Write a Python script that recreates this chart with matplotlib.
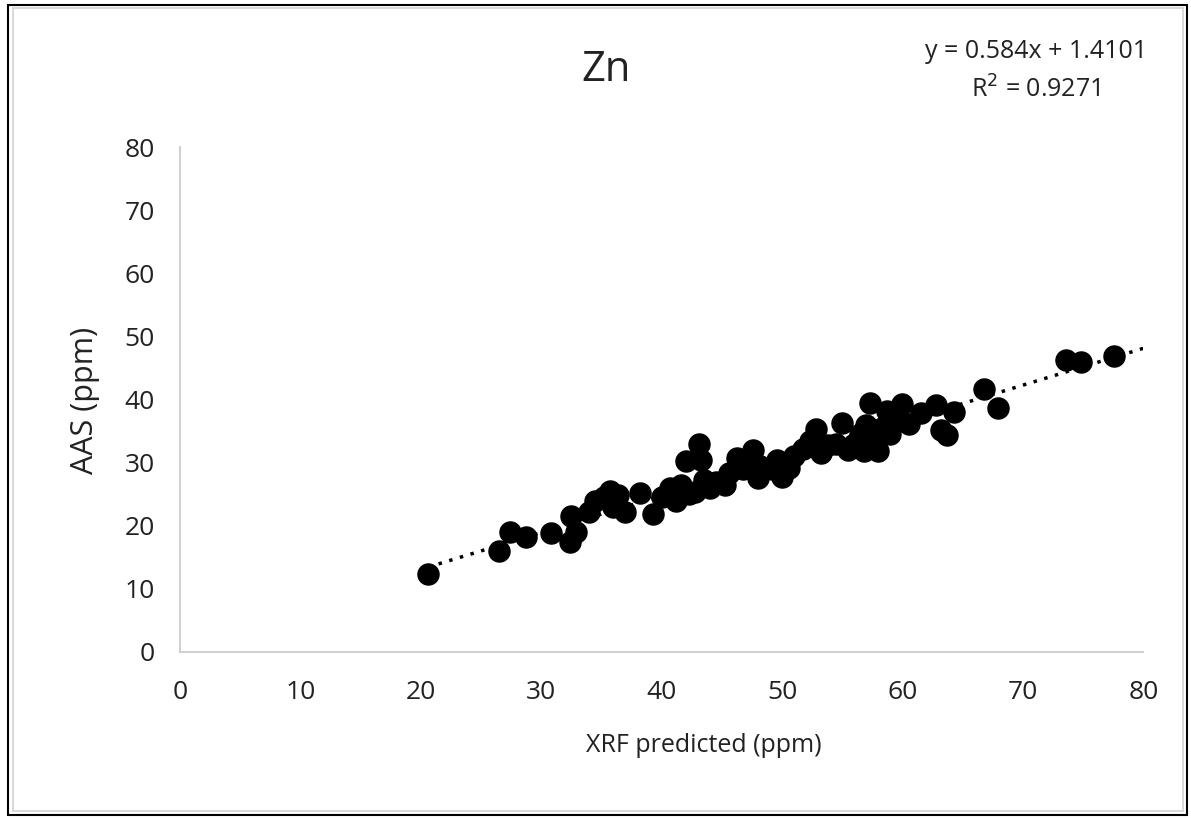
import matplotlib.pyplot as plt
from matplotlib.patches import Rectangle

# XRF predicted vs AAS values (ppm)
xrf = [20.6, 26.5, 27.4, 28.7, 30.8, 32.4, 32.5, 32.9, 34.0, 34.5, 35.2, 35.7,
       36.0, 36.4, 37.0, 38.2, 39.3, 40.0, 40.7, 41.2, 41.6, 42.0, 42.3, 42.8,
       43.1, 43.3, 43.5, 44.0, 44.5, 45.3, 45.6, 46.3, 46.8, 47.3, 47.6, 48.0,
       48.2, 49.2, 49.6, 50.0, 50.6, 51.0, 51.7, 52.3, 52.8, 53.2, 53.8, 54.5,
       55.0, 55.5, 56.0, 56.5, 56.8, 57.0, 57.3, 57.6, 58.0, 58.3, 58.7, 59.0,
       59.5, 60.0, 60.5, 61.5, 62.8, 63.2, 63.7, 64.3, 66.8, 67.9, 73.6, 74.8,
       77.6]
aas = [12.3, 16.0, 19.0, 18.2, 18.9, 17.5, 21.5, 19.0, 22.2, 24.0, 24.5, 25.5,
       23.0, 24.9, 22.2, 25.2, 21.8, 24.5, 26.0, 24.0, 26.5, 30.3, 25.0, 25.4,
       33.0, 30.5, 27.2, 26.0, 27.0, 26.5, 28.3, 30.8, 29.0, 30.4, 32.0, 27.5,
       29.5, 29.0, 30.4, 27.7, 29.1, 31.0, 32.2, 33.5, 35.3, 31.6, 32.8, 33.0,
       36.3, 32.0, 33.0, 34.5, 31.8, 36.0, 39.5, 33.5, 31.8, 35.5, 38.2, 34.6,
       36.5, 39.3, 36.2, 37.8, 39.2, 35.2, 34.4, 38.1, 41.6, 38.6, 46.2, 45.9,
       46.9]

slope = 0.584
intercept = 1.4101
r2 = 0.9271
ticks = [0, 10, 20, 30, 40, 50, 60, 70, 80]

fig = plt.figure(figsize=(11.91, 8.18), dpi=100)
plt.rcParams['font.family'] = ['Open Sans', 'DejaVu Sans']
txt = '#222222'

# outer frame
fig.patches.append(Rectangle((0.007, 0.004), 0.99, 0.99, transform=fig.transFigure,
                             fill=False, edgecolor='black', linewidth=1.5))
fig.patches.append(Rectangle((0.011, 0.008), 0.982, 0.982, transform=fig.transFigure,
                             fill=False, edgecolor='#d9d9d9', linewidth=1.5))

ax = fig.add_axes([0.151, 0.203, 0.809, 0.617])
ax.scatter(xrf, aas, s=230, c='black', zorder=3)

fx = [min(xrf), 80]
fy = [slope * v + intercept for v in fx]
ax.plot(fx, fy, color='black', linestyle=(0, (1, 2.2)), linewidth=2.5, zorder=2)

ax.set_xlim(0, 80)
ax.set_ylim(0, 80)
ax.set_xticks(ticks)
ax.set_yticks(ticks)
ax.tick_params(length=0, labelsize=19, colors=txt)
ax.tick_params(axis='x', pad=20)
ax.tick_params(axis='y', pad=18)
for s in ['top', 'right']:
    ax.spines[s].set_visible(False)
for s in ['left', 'bottom']:
    ax.spines[s].set_color('#d0d0d0')
    ax.spines[s].set_linewidth(1.5)

fig.text(0.591, 1 - 745 / 818, 'XRF predicted (ppm)', fontsize=18,
         ha='center', va='center', color=txt)
fig.text(85 / 1191, 1 - 400 / 818, 'AAS (ppm)', fontsize=22, rotation=90,
         ha='center', va='center', color=txt)

fig.text(606 / 1191, 1 - 70 / 818, 'Zn', fontsize=30, ha='center', va='center', color=txt)
fig.text(1036 / 1191, 1 - 52 / 818, f'y = {slope}x + {intercept}', fontsize=18,
         ha='center', va='center', color=txt)
fig.text(1036 / 1191, 1 - 90 / 818, f'R$^2$ = {r2}', fontsize=18,
         ha='center', va='center', color=txt)

fig.savefig('out.png', dpi=100)
